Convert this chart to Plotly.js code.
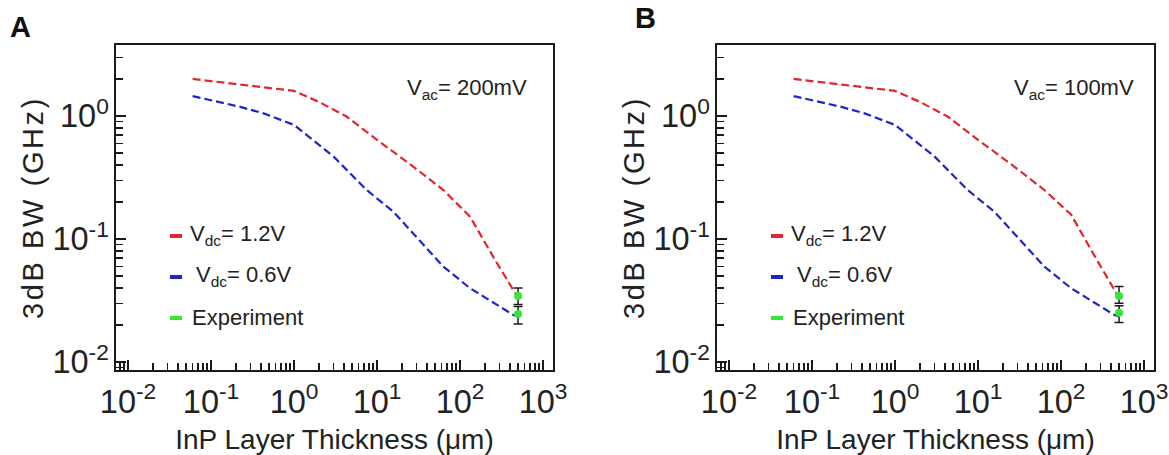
<!DOCTYPE html>
<html><head><meta charset="utf-8">
<script src="https://cdn.plot.ly/plotly-3.0.1.min.js"></script>
<style>
html,body{margin:0;padding:0;background:#fff}
.ytitle,.y2title{letter-spacing:2.6px}
</style>
</head><body><div id="chart" style="width:1169px;height:455px"></div>
<script>
// ---------- data ----------
const xTickVals = [0.01, 0.1, 1, 10, 100, 1000];
const xTickText = ['10<sup>-2</sup>', '10<sup>-1</sup>', '10<sup>0</sup>', '10<sup>1</sup>', '10<sup>2</sup>', '10<sup>3</sup>'];
const yTickVals = [0.01, 0.1, 1];
const yTickText = ['10<sup>-2</sup>', '10<sup>-1</sup>', '10<sup>0</sup>'];

// Panel A (Vac = 200 mV)
const thickRedA  = [0.06, 1.0, 2.0, 4.3, 10, 27, 63, 132, 250, 440, 490];
const bwRedA     = [2.0, 1.6, 1.3, 0.99, 0.64, 0.39, 0.25, 0.152, 0.072, 0.0385, 0.034];
const thickBlueA = [0.06, 0.22, 0.43, 1.0, 3.0, 7.5, 15.7, 30, 63, 132, 440, 490];
const bwBlueA    = [1.45, 1.19, 1.05, 0.845, 0.467, 0.25, 0.167, 0.104, 0.0596, 0.0398, 0.0241, 0.0236];
const expXA      = [500, 500];
const expYA      = [0.0344, 0.0246];
const expErrUpA  = [0.0056, 0.0036];
const expErrDnA  = [0.0050, 0.0042];

// Panel B (Vac = 100 mV)
const thickRedB  = [0.06, 1.0, 2.0, 4.3, 10, 27, 63, 132, 250, 440, 490];
const bwRedB     = [2.0, 1.6, 1.3, 0.99, 0.64, 0.39, 0.25, 0.158, 0.074, 0.0385, 0.034];
const thickBlueB = [0.06, 0.22, 0.43, 1.0, 3.0, 7.5, 15.7, 30, 63, 132, 440, 490];
const bwBlueB    = [1.45, 1.19, 1.05, 0.845, 0.467, 0.25, 0.167, 0.104, 0.0596, 0.0398, 0.0241, 0.0236];
const expXB      = [500, 500];
const expYB      = [0.0344, 0.0252];
const expErrUpB  = [0.0066, 0.0035];
const expErrDnB  = [0.0044, 0.0043];

const seriesNames = ['V<sub>dc</sub>= 1.2V', 'V<sub>dc</sub>= 0.6V', 'Experiment'];
const vacLabels = ['V<sub>ac</sub>= 200mV', 'V<sub>ac</sub>= 100mV'];
const panelLabels = ['A', 'B'];
const xTitle = 'InP Layer Thickness (μm)';
const yTitle = '3dB BW (GHz)';

// ---------- styling / layout ----------
const RED = '#e3262b', BLUE = '#1f26c8', GREEN = '#35e635', INK = '#1a1a1a';
const FONT = 'Liberation Sans, Arial, Helvetica, sans-serif';
const W = 1169, H = 455, ML = 116, MR = 15, MT = 45, MB = 85;
const PW = W - ML - MR, PH = H - MT - MB;
const px = v => (v - ML) / PW;
const py = v => (H - MB - v) / PH;

// minor tick positions (2..9 within each decade)
const minorVals = [];
for (let e = -3; e <= 3; e++) for (let d = 2; d <= 9; d++) minorVals.push(d * Math.pow(10, e));

// map Plotly's default power-format log labels onto the reference's labels
function plotlyLogText(v) {
  const p = Math.round(Math.log10(v));
  if (p === 0) return '1';
  if (p === 1) return '10';
  return '10<sup>' + (p > 1 ? '' : '\u2212') + Math.abs(p) + '</sup>';
}
function aliasFor(vals, texts) { const a = {}; vals.forEach((v, i) => { a[plotlyLogText(v)] = texts[i]; }); return a; }

function commonAxis() {
  return {
    type: 'log', tickmode: 'linear', tick0: 0, dtick: 1, exponentformat: 'power',
    ticks: 'inside', ticklen: 10, tickwidth: 1.6, tickcolor: INK,
    showline: true, linewidth: 2, linecolor: INK, mirror: true,
    showgrid: false, zeroline: false, automargin: false, ticklabeloverflow: 'allow',
    tickfont: {family: FONT, size: 26, color: '#222'}
  };
}
function xAxis(domain, anchor) {
  return Object.assign(commonAxis(), {
    domain: domain, anchor: anchor, range: [-2.145, 3.12],
    labelalias: aliasFor(xTickVals, xTickText), ticklabelstandoff: 3,
    title: {text: xTitle, font: {family: FONT, size: 28, color: '#222'}, standoff: 14}
  });
}
function yAxis(anchor) {
  return Object.assign(commonAxis(), {
    domain: [0, 1], anchor: anchor, range: [-2.065, 0.577],
    labelalias: aliasFor(yTickVals, yTickText),
    title: {text: yTitle + '\u2002\u00a0', font: {family: FONT, size: 29, color: '#222'}, standoff: 0}
  });
}
function minorAxis(over, anchor, range) {
  return {type: 'log', overlaying: over, anchor: anchor, range: range, autorange: false,
    tickmode: 'array', tickvals: minorVals.slice(), ticktext: minorVals.map(() => ''),
    ticks: 'inside', ticklen: 7, tickwidth: 1.5, tickcolor: INK,
    showticklabels: false, showline: false, showgrid: false, zeroline: false, automargin: false};
}

const line = c => ({color: c, width: 2.2, dash: '8px,4px'});
function expTrace(x, y, up, dn, xa, ya) {
  return {x: x, y: y, xaxis: xa, yaxis: ya, type: 'scatter', mode: 'markers', name: seriesNames[2], showlegend: false,
    marker: {color: GREEN, size: 8},
    error_y: {type: 'data', symmetric: false, array: up, arrayminus: dn, color: INK, thickness: 1.5, width: 4.5}};
}
// invisible carriers so that the minor-tick overlay axes get drawn
const tickCarrier = (xa, ya) => ({x: [1], y: [0.1], xaxis: xa, yaxis: ya, type: 'scatter', mode: 'markers', marker: {opacity: 0}, showlegend: false, hoverinfo: 'skip'});
const data = [
  tickCarrier('x3', 'y'), tickCarrier('x', 'y3'), tickCarrier('x4', 'y2'), tickCarrier('x2', 'y4'),
  {x: thickRedA, y: bwRedA, xaxis: 'x', yaxis: 'y', type: 'scatter', mode: 'lines', name: seriesNames[0], showlegend: false, line: line(RED)},
  {x: thickBlueA, y: bwBlueA, xaxis: 'x', yaxis: 'y', type: 'scatter', mode: 'lines', name: seriesNames[1], showlegend: false, line: line(BLUE)},
  expTrace(expXA, expYA, expErrUpA, expErrDnA, 'x', 'y'),
  {x: thickRedB, y: bwRedB, xaxis: 'x2', yaxis: 'y2', type: 'scatter', mode: 'lines', name: seriesNames[0], showlegend: false, line: line(RED)},
  {x: thickBlueB, y: bwBlueB, xaxis: 'x2', yaxis: 'y2', type: 'scatter', mode: 'lines', name: seriesNames[1], showlegend: false, line: line(BLUE)},
  expTrace(expXB, expYB, expErrUpB, expErrDnB, 'x2', 'y2')
];

const annotations = [], shapes = [];
const panelOffsets = [0, 601];
const legendColors = [RED, BLUE, GREEN];
const legendRowsY = [236, 277, 318];
const legendTextX = [190, 196, 192];
panelOffsets.forEach((off, i) => {
  // panel letter
  annotations.push({xref: 'paper', yref: 'paper', x: px(i === 0 ? 20 : 645), y: i === 0 ? py(27) : py(0),
    xanchor: 'center', yanchor: i === 0 ? 'middle' : 'top', showarrow: false, text: '<b>' + panelLabels[i] + '</b>',
    font: {family: FONT, size: 29, color: '#111'}});
  // Vac label
  annotations.push({xref: 'paper', yref: 'paper', x: px(405 + off + (i ? 6 : 0)), y: py(89), xanchor: 'left', yanchor: 'middle',
    showarrow: false, text: vacLabels[i], font: {family: FONT, size: 22, color: '#222'}});
  // hand-drawn legend (short solid swatches, as in the reference)
  legendRowsY.forEach((ry, k) => {
    shapes.push({type: 'line', xref: 'paper', yref: 'paper', x0: px(170 + off), x1: px(182 + off), y0: py(ry), y1: py(ry),
      line: {color: legendColors[k], width: 4}});
    annotations.push({xref: 'paper', yref: 'paper', x: px(legendTextX[k] - 2 + off), y: py(ry - 1), xanchor: 'left', yanchor: 'middle',
      showarrow: false, text: seriesNames[k], font: {family: FONT, size: 22, color: '#222'}});
  });
});

const layout = {
  width: W, height: H, margin: {l: ML, r: MR, t: MT, b: MB},
  paper_bgcolor: '#fff', plot_bgcolor: '#fff', showlegend: false,
  font: {family: FONT, color: '#222'},
  xaxis: xAxis([0, 437 / PW], 'y'),
  yaxis: yAxis('x'),
  xaxis2: xAxis([601 / PW, 1], 'y2'),
  yaxis2: yAxis('x2'),
  xaxis3: minorAxis('x', 'y', [-2.145, 3.12]),
  yaxis3: minorAxis('y', 'x', [-2.065, 0.577]),
  xaxis4: minorAxis('x2', 'y2', [-2.145, 3.12]),
  yaxis4: minorAxis('y2', 'x2', [-2.065, 0.577]),
  annotations: annotations, shapes: shapes
};
Plotly.newPlot('chart', data, layout, {displayModeBar: false, staticPlot: true});
</script></body></html>
